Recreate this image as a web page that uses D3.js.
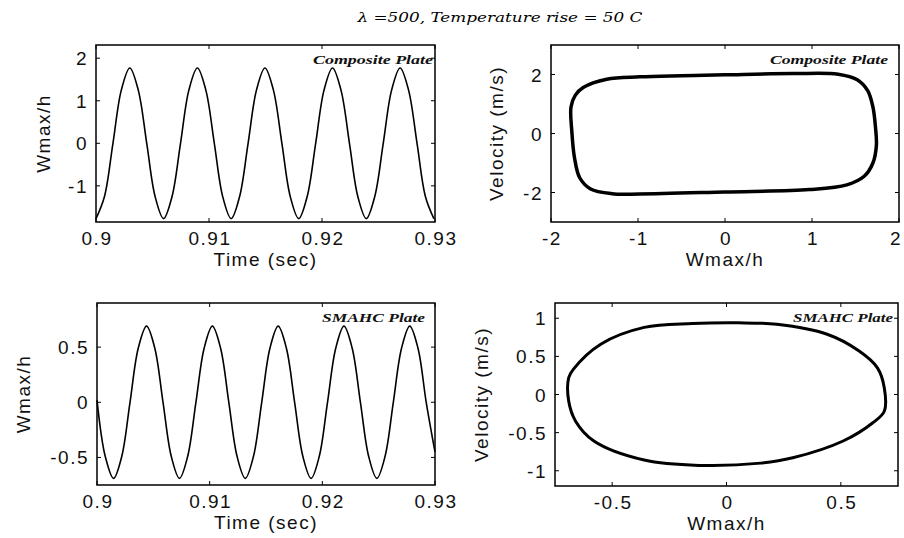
<!DOCTYPE html>
<html lang="en">
<head>
  <meta charset="UTF-8">
  <title>Composite vs SMAHC plate response</title>
  <script src="https://d3js.org/d3.v7.min.js"></script>
  <style>
    body {
      margin: 0;
      background: white;
    }
    svg {
      display: block;
    }
    .tick-label, .axis-title {
      font-family: "Liberation Sans", Arial, sans-serif;
      font-size: 19px;
      letter-spacing: 1.5px;
      fill: #111;
    }
    .note {
      font-family: "Liberation Serif", serif;
      font-style: italic;
      font-weight: bold;
      font-size: 13px;
      fill: #111;
    }
  </style>
</head>
<body>
<svg id="chart" width="904" height="538"></svg>

<script>
  // top-left: composite plate, Wmax/h vs time
  const compTime = [0.90000, 0.90075, 0.90150, 0.90224, 0.90299, 0.90374, 0.90449, 0.90523,
    0.90598, 0.90673, 0.90748, 0.90822, 0.90897, 0.90972, 0.91047, 0.91121,
    0.91196, 0.91271, 0.91346, 0.91420, 0.91495, 0.91570, 0.91645, 0.91719,
    0.91794, 0.91869, 0.91944, 0.92018, 0.92093, 0.92168, 0.92243, 0.92317,
    0.92392, 0.92467, 0.92542, 0.92616, 0.92691, 0.92766, 0.92841, 0.92915, 0.92990];
  const compDisp = [-1.77, -1.25, 0, 1.25, 1.77, 1.25, 0, -1.25,
    -1.77, -1.25, 0, 1.25, 1.77, 1.25, 0, -1.25,
    -1.77, -1.25, 0, 1.25, 1.77, 1.25, 0, -1.25,
    -1.77, -1.25, 0, 1.25, 1.77, 1.25, 0, -1.25,
    -1.77, -1.25, 0, 1.25, 1.77, 1.25, 0, -1.25, -1.77];

  // top-right: composite plate phase portrait
  const compPhaseW = [-1.77, -1.72, -1.63, -1.36, -0.98, -0.5, 0, 0.78, 1.3, 1.52, 1.64, 1.70, 1.73,
    1.74, 1.70, 1.60, 1.40, 0.97, 0, -0.98, -1.3, -1.55, -1.67, -1.73, -1.76];
  const compPhaseV = [0.9, 1.3, 1.56, 1.84, 1.92, 1.96, 1.99, 2.03, 2.01, 1.82, 1.45, 0.9, 0.2,
    -0.4, -1.0, -1.45, -1.74, -1.9, -1.98, -2.05, -2.04, -1.87, -1.5, -0.82, 0.05];

  // bottom-left: SMAHC plate, Wmax/h vs time
  const smaTime = [0.90000, 0.90073, 0.90147, 0.90220, 0.90293, 0.90366, 0.90440, 0.90513,
    0.90586, 0.90659, 0.90732, 0.90805, 0.90878, 0.90951, 0.91024, 0.91097,
    0.91170, 0.91243, 0.91316, 0.91389, 0.91462, 0.91535, 0.91608, 0.91681,
    0.91754, 0.91827, 0.91900, 0.91973, 0.92046, 0.92119, 0.92192, 0.92265,
    0.92338, 0.92411, 0.92484, 0.92557, 0.92630, 0.92703, 0.92776, 0.92849,
    0.92922, 0.93000];
  const smaDisp = [0.02, -0.49, -0.69, -0.49, 0, 0.49, 0.69, 0.49,
    0, -0.49, -0.69, -0.49, 0, 0.49, 0.69, 0.49,
    0, -0.49, -0.69, -0.49, 0, 0.49, 0.69, 0.49,
    0, -0.49, -0.69, -0.49, 0, 0.49, 0.69, 0.49,
    0, -0.49, -0.69, -0.49, 0, 0.49, 0.69, 0.49,
    0, -0.45];

  // bottom-right: SMAHC plate phase portrait
  const smaPhaseW = [0.05, 0.22, 0.44, 0.58, 0.66, 0.69, 0.69, 0.64, 0.51, 0.29, 0.15, -0.12,
    -0.36, -0.58, -0.66, -0.69, -0.69, -0.67, -0.55, -0.36, -0.15];
  const smaPhaseV = [0.94, 0.92, 0.79, 0.57, 0.35, 0.09, -0.22, -0.37, -0.61, -0.83, -0.90, -0.93,
    -0.86, -0.61, -0.35, -0.09, 0.22, 0.33, 0.66, 0.88, 0.93];

  const timeTicks = [0.9, 0.91, 0.92, 0.93];

  const svg = d3.select("#chart");

  svg.append("text")
    .attr("x", 500)
    .attr("y", 22)
    .attr("text-anchor", "middle")
    .attr("textLength", 285)
    .attr("lengthAdjust", "spacingAndGlyphs")
    .style("font-family", "'DejaVu Serif', serif")
    .style("font-style", "italic")
    .style("font-size", "13px")
    .text("λ =500, Temperature rise = 50 C");

  function panel(opt) {
    const x = d3.scaleLinear().domain(opt.xDomain).range([opt.left, opt.right]);
    const y = d3.scaleLinear().domain(opt.yDomain).range([opt.bottom, opt.top]);
    const g = svg.append("g");
    const tickLen = 4;

    // inward ticks on all four sides, MATLAB style
    opt.xTicks.forEach(t => {
      g.append("line").attr("x1", x(t)).attr("x2", x(t))
        .attr("y1", opt.bottom).attr("y2", opt.bottom - tickLen)
        .attr("stroke", "#000");
      g.append("line").attr("x1", x(t)).attr("x2", x(t))
        .attr("y1", opt.top).attr("y2", opt.top + tickLen)
        .attr("stroke", "#000");
      // keep the last label inside the window
      const lx = Math.min(x(t) + 1, 896);
      g.append("text").attr("class", "tick-label")
        .attr("x", lx).attr("y", opt.bottom + 23)
        .attr("text-anchor", "middle")
        .text(String(t));
    });
    opt.yTicks.forEach(t => {
      g.append("line").attr("x1", opt.left).attr("x2", opt.left + tickLen)
        .attr("y1", y(t)).attr("y2", y(t))
        .attr("stroke", "#000");
      g.append("line").attr("x1", opt.right).attr("x2", opt.right - tickLen)
        .attr("y1", y(t)).attr("y2", y(t))
        .attr("stroke", "#000");
      g.append("text").attr("class", "tick-label")
        .attr("x", opt.left - 8).attr("y", y(t) + 7)
        .attr("text-anchor", "end")
        .text(String(t));
    });

    const pts = opt.xs.map((v, i) => [v, opt.ys[i]]);
    const line = d3.line()
      .x(d => x(d[0]))
      .y(d => y(d[1]))
      .curve(opt.closed ? d3.curveCatmullRomClosed : d3.curveCatmullRom);
    g.append("path")
      .datum(pts)
      .attr("d", line)
      .attr("fill", "none")
      .attr("stroke", "#000")
      .attr("stroke-width", opt.lineWidth)
      .attr("stroke-linejoin", "round");

    g.append("rect")
      .attr("x", opt.left).attr("y", opt.top)
      .attr("width", opt.right - opt.left)
      .attr("height", opt.bottom - opt.top)
      .attr("fill", "none")
      .attr("stroke", "#000")
      .attr("stroke-width", 1.5);

    g.append("text").attr("class", "axis-title")
      .attr("x", (opt.left + opt.right) / 2)
      .attr("y", opt.bottom + 44)
      .attr("text-anchor", "middle")
      .text(opt.xLabel);
    g.append("text").attr("class", "axis-title")
      .attr("transform", `translate(${opt.yLabelX},${(opt.top + opt.bottom) / 2}) rotate(-90)`)
      .attr("text-anchor", "middle")
      .text(opt.yLabel);

    g.append("text").attr("class", "note")
      .attr("x", opt.noteX).attr("y", opt.top + 19)
      .attr("textLength", opt.noteW)
      .attr("lengthAdjust", "spacingAndGlyphs")
      .text(opt.note);
  }

  panel({
    left: 96, right: 435, top: 45, bottom: 222,
    xDomain: [0.9, 0.93], yDomain: [-1.85, 2.31],
    xTicks: timeTicks, yTicks: [-1, 0, 1, 2],
    xs: compTime, ys: compDisp, closed: false, lineWidth: 1.6,
    xLabel: "Time (sec)", yLabel: "Wmax/h", yLabelX: 50,
    note: "Composite Plate", noteX: 313, noteW: 120
  });

  panel({
    left: 551, right: 899, top: 45, bottom: 222,
    xDomain: [-2, 2], yDomain: [-3, 3],
    xTicks: [-2, -1, 0, 1, 2], yTicks: [-2, 0, 2],
    xs: compPhaseW, ys: compPhaseV, closed: true, lineWidth: 3.5,
    xLabel: "Wmax/h", yLabel: "Velocity (m/s)", yLabelX: 503,
    note: "Composite Plate", noteX: 770, noteW: 118
  });

  panel({
    left: 97, right: 435, top: 303, bottom: 485,
    xDomain: [0.9, 0.93], yDomain: [-0.75, 0.9],
    xTicks: timeTicks, yTicks: [-0.5, 0, 0.5],
    xs: smaTime, ys: smaDisp, closed: false, lineWidth: 1.6,
    xLabel: "Time (sec)", yLabel: "Wmax/h", yLabelX: 30,
    note: "SMAHC Plate", noteX: 322, noteW: 103
  });

  panel({
    left: 555, right: 898, top: 303, bottom: 486,
    xDomain: [-0.75, 0.75], yDomain: [-1.2, 1.2],
    xTicks: [-0.5, 0, 0.5], yTicks: [-1, -0.5, 0, 0.5, 1],
    xs: smaPhaseW, ys: smaPhaseV, closed: true, lineWidth: 3,
    xLabel: "Wmax/h", yLabel: "Velocity (m/s)", yLabelX: 488,
    note: "SMAHC Plate", noteX: 793, noteW: 100
  });
</script>
</body>
</html>
